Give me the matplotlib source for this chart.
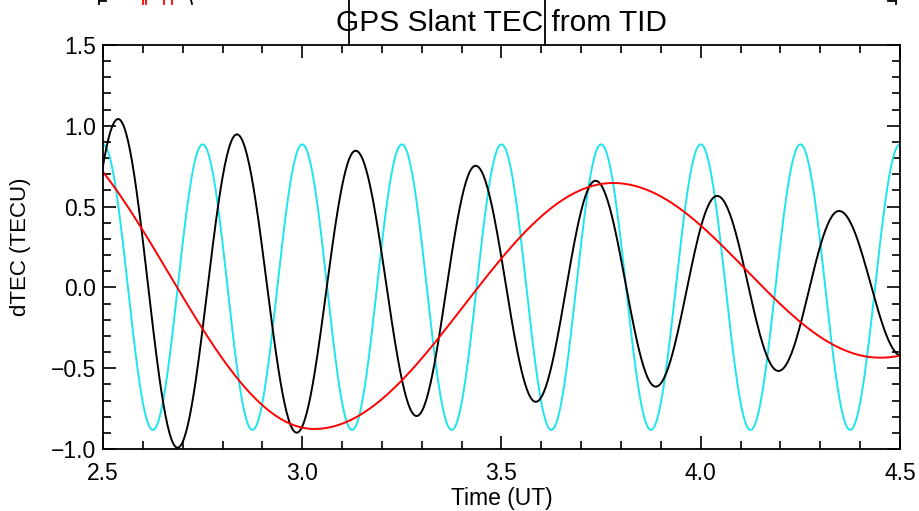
import numpy as np
import matplotlib
matplotlib.use("Agg")
import matplotlib.pyplot as plt
from matplotlib.ticker import MultipleLocator, FuncFormatter
from matplotlib.lines import Line2D

plt.rcParams['font.family'] = ['Liberation Sans', 'DejaVu Sans']

# extrema (time UT, dTEC); the wave between two
# consecutive extrema is drawn as a half cosine
cyan_t = [2.5, 2.625, 2.75, 2.875, 3.0, 3.125, 3.25, 3.375, 3.5,
          3.625, 3.75, 3.875, 4.0, 4.125, 4.25, 4.375, 4.5]
cyan_v = [0.885, -0.882, 0.885, -0.882, 0.885, -0.882, 0.885, -0.882, 0.885,
          -0.882, 0.885, -0.882, 0.885, -0.882, 0.885, -0.882, 0.885]

black_t = [2.38, 2.538, 2.687, 2.836, 2.986, 3.134, 3.287, 3.435, 3.586,
           3.736, 3.887, 4.041, 4.195, 4.347, 4.505]
black_v = [-1.09, 1.042, -0.992, 0.947, -0.899, 0.846, -0.796, 0.753, -0.708,
           0.660, -0.614, 0.566, -0.517, 0.473, -0.425]

red_t = [2.30, 3.03, 3.78, 4.45, 5.05]
red_v = [1.05, -0.876, 0.646, -0.435, 0.30]


def wave(tk, vk, n=60):
    tk = np.asarray(tk)
    vk = np.asarray(vk)
    ts, vs = [], []
    for i in range(len(tk) - 1):
        s = np.linspace(0, 1, n)
        ts.append(tk[i] + s * (tk[i + 1] - tk[i]))
        vs.append(vk[i] + (vk[i + 1] - vk[i]) * (1 - np.cos(np.pi * s)) / 2)
    return np.concatenate(ts), np.concatenate(vs)


fig = plt.figure(figsize=(9.2, 5.11), dpi=100)
ax = fig.add_axes([103 / 920, 1 - 449 / 511, 797 / 920, 404 / 511])

for tk, vk, col in [(cyan_t, cyan_v, '#1ee4ee'), (black_t, black_v, 'black'),
                    (red_t, red_v, '#ff0000')]:
    x, y = wave(tk, vk)
    ax.plot(x, y, color=col, lw=1.4)

fmt = FuncFormatter(lambda v, p: f'{v:.1f}'.replace('-', '\u2212'))
ax.set_xlim(2.5, 4.5)
ax.set_ylim(-1.0, 1.5)
ax.xaxis.set_major_locator(MultipleLocator(0.5))
ax.xaxis.set_minor_locator(MultipleLocator(0.1))
ax.yaxis.set_major_locator(MultipleLocator(0.5))
ax.yaxis.set_minor_locator(MultipleLocator(0.1))
ax.xaxis.set_major_formatter(fmt)
ax.yaxis.set_major_formatter(fmt)
ax.tick_params(which='both', direction='in', top=True, right=True,
               width=1.2, labelsize=16.5)
ax.tick_params(which='major', length=9.5)
ax.tick_params(axis='y', which='major', pad=5)
ax.tick_params(axis='x', which='major', pad=9)
ax.tick_params(which='minor', length=5.8)
for sp in ax.spines.values():
    sp.set_linewidth(1.3)

ax.set_xlabel('Time (UT)', fontsize=16.5, labelpad=2)
ax.set_ylabel('dTEC (TECU)', fontsize=16, labelpad=14)
ax.set_title('GPS Slant TEC from TID', fontsize=21.5, pad=10)

# leftover strokes at the top edge of the image
def fline(xs, ys, col='black'):
    fig.add_artist(Line2D([v / 920 for v in xs], [1 - v / 511 for v in ys],
                          color=col, lw=1.3, transform=fig.transFigure))

fline([349, 349], [0, 45])
fline([545, 545], [0, 45])
fline([99, 99], [0, 4])
fline([99, 106], [1, 1])
fline([888, 896], [1, 1])
fline([896, 896], [0, 4])
fline([191, 192], [0, 4])
for xr in [143, 146, 164, 172]:
    fline([xr, xr], [0, 4], '#ff0000')

fig.savefig('out.png', dpi=100)
